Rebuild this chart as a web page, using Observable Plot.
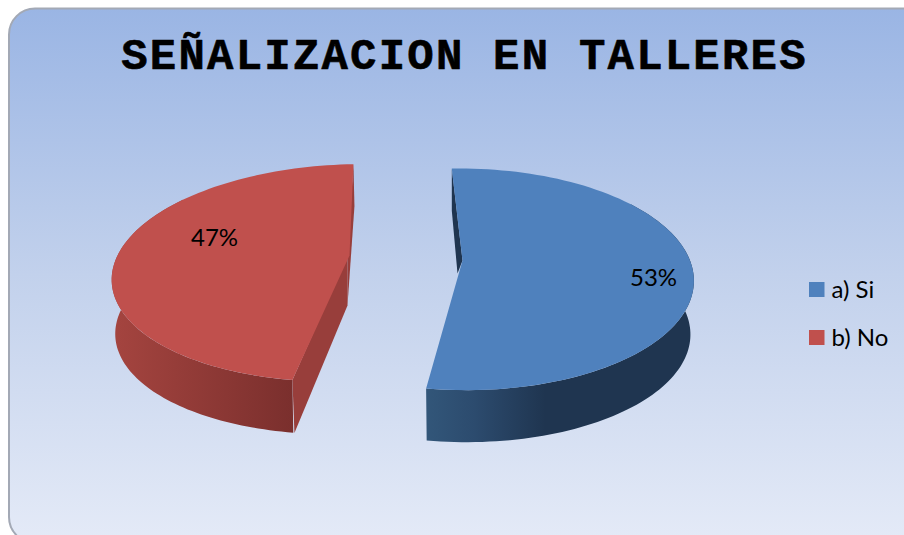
<!DOCTYPE html>
<html><head><meta charset="utf-8">
<script src="https://cdn.jsdelivr.net/npm/d3@7"></script>
<script src="https://cdn.jsdelivr.net/npm/@observablehq/plot@0.6"></script>
<style>html,body{margin:0;padding:0;background:#fff;overflow:hidden}svg{display:block}</style>
</head><body><div id="chart"></div>
<script>
const chartTitle = "SEÑALIZACION EN TALLERES";
const categories = ["a) Si", "b) No"];
const shares = [53, 47];
const shareLabels = ["53%", "47%"];

const W = 904, H = 535;
const topColors = ["#4f81bd", "#c0504d"];
const innerColors = ["#1f3550", "#983e3b"];
const wallFills = ["url(#wallBlue)", "url(#wallRed)"];
// exploded-slice perspective view: centre, radii, perspective k, shear s, wall depth
const views = [
  {cx: 462, cy: 260, rx: 227.5, ry: 107.6, k: 0.17, s: 3, depth: 54, wallFrom: 55, wallTo: null},
  {cx: 349, cy: 255, rx: 232, ry: 106, k: 0.16, s: -14.3, depth: 54.5, wallFrom: null, wallTo: 305}
];
const labelAnchors = [[653, 278], [214, 238]];
const startDeg = -2.4;

function project(v, deg, f = 1, dy = 0) {
  const t = deg * Math.PI / 180, u = Math.sin(t), w = -Math.cos(t);
  const d = 1 - v.k * w;
  return {x: v.cx + f * (v.rx * u + v.s * w) / d, y: v.cy + dy + f * v.ry * w / d};
}
const total = d3.sum(shares);
let acc = startDeg;
const slices = shares.map((s, i) => {
  const a0 = acc, a1 = acc + s / total * 360; acc = a1;
  return {i, a0, a1, v: views[i]};
});
const arc = (v, a, b, f, dy) => d3.range(0, 91).map(j => project(v, a + (b - a) * j / 90, f, dy));

const faces = slices.map(({v, a0, a1}) => [{x: v.cx, y: v.cy}, ...arc(v, a0, a1, 1, 0)]);
const walls = slices.map(({v, a0, a1}) => {
  const a = v.wallFrom ?? a0, b = v.wallTo ?? a1;
  return [...arc(v, a, b, 1, 0), ...arc(v, b, a, 0.985, v.depth)];
});
// cut faces of each wedge
const blue = slices[0], red = slices[1];
const blueStart = project(blue.v, blue.a0);
const cutBlue = [blueStart, {x: blueStart.x, y: blueStart.y + 42},
  {x: blue.v.cx - 5, y: blue.v.cy + 13}, {x: blue.v.cx, y: blue.v.cy}];
const redEnd = project(red.v, red.a1), redStart = project(red.v, red.a0);
const cutRed1 = [redStart, {x: redStart.x + 2, y: redStart.y + 53}, {x: red.v.cx - 2, y: red.v.cy + 50}, {x: red.v.cx - 2, y: red.v.cy}];
const cutRed2 = [redEnd, {x: redEnd.x + 1, y: redEnd.y + 42}, {x: red.v.cx - 2, y: red.v.cy + 50}, {x: red.v.cx - 2, y: red.v.cy}];

const poly = (pts, fill) => Plot.line(pts, {x: "x", y: "y", fill, stroke: "none", curve: "linear"});

const defs = () => {
  const svg = d3.create("svg:defs");
  const lin = (id, attrs, stops) => {
    const g = svg.append("linearGradient").attr("id", id).attr("gradientUnits", "userSpaceOnUse");
    Object.entries(attrs).forEach(([k, val]) => g.attr(k, val));
    stops.forEach(([o, c]) => g.append("stop").attr("offset", o).attr("stop-color", c));
  };
  lin("bg", {x1: 0, y1: 8, x2: 0, y2: 540}, [[0, "#9ab5e4"], [0.5, "#c2d1ec"], [1, "#e4eaf7"]]);
  lin("wallBlue", {x1: 427, y1: 0, x2: 545, y2: 0}, [[0, "#325679"], [0.4, "#2c4b6e"], [1, "#1f3550"]]);
  lin("wallRed", {x1: 115, y1: 0, x2: 294, y2: 0}, [[0, "#a4443f"], [1, "#7a2f2d"]]);
  return svg.node();
};

const legendY = i => 289.5 + i * 48;

const chart = Plot.plot({
  width: W, height: H, margin: 0,
  style: {background: "white", overflow: "hidden"},
  x: {domain: [0, W], range: [0, W], axis: null},
  y: {domain: [0, H], range: [0, H], axis: null},
  marks: [
    defs,
    Plot.rect([0], {x1: 9, y1: 8.5, x2: W + 30, y2: H + 8, rx: 26, ry: 26, fill: "url(#bg)", stroke: "#a3a9b5", strokeWidth: 2}),
    Plot.text([chartTitle], {x: 464, y: 54, text: d => d, fontFamily: "Liberation Mono", fontWeight: "bold", fontSize: 44,
      fill: "#000", stroke: "#000", strokeWidth: 0.6, textAnchor: "middle",
      render: (i, s, v, d, c, next) => { const g = next(i, s, v, d, c); g.style.letterSpacing = "2.2px"; return g; }}),
    poly(walls[1], wallFills[1]),
    poly(cutRed1, innerColors[1]),
    poly(cutRed2, innerColors[1]),
    poly(faces[1], topColors[1]),
    poly(cutBlue, innerColors[0]),
    poly(walls[0], wallFills[0]),
    poly(faces[0], topColors[0]),
    Plot.text(shareLabels, {x: (d, i) => labelAnchors[i][0], y: (d, i) => labelAnchors[i][1], text: d => d,
      fontFamily: "Lato", fontSize: 24, fill: "#000", textAnchor: "middle"}),
    Plot.rect(categories, {x1: 809, x2: 824.5, y1: (d, i) => legendY(i) - 7.5, y2: (d, i) => legendY(i) + 7.5,
      fill: (d, i) => topColors[i]}),
    Plot.text(categories, {x: 831, y: (d, i) => legendY(i), text: d => d, fontFamily: "Lato", fontSize: 24,
      fill: "#000", textAnchor: "start"})
  ]
});
document.getElementById("chart").append(chart);
</script></body></html>
